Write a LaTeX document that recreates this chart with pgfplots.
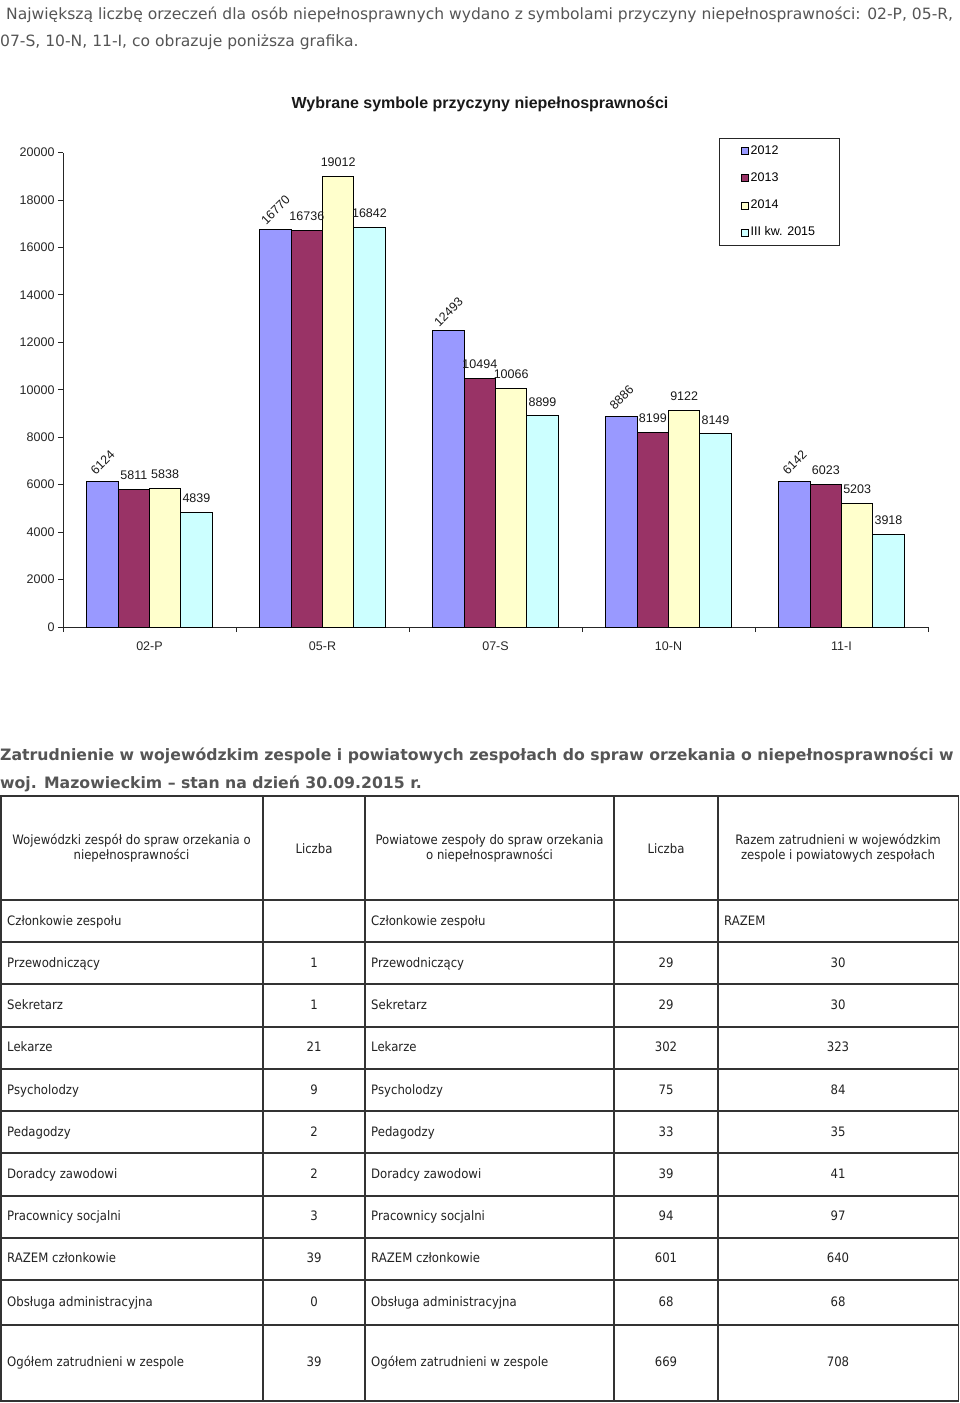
\documentclass[border=0pt]{standalone}
\usepackage{fontspec}
\usepackage{pgfplots}
\usepackage{pgfplotstable}
\pgfplotsset{compat=1.18}
\setmainfont{Liberation Sans}
\newfontfamily\pagefont{DejaVu Sans}
\newfontfamily\tabfontfam[FakeStretch=0.9]{DejaVu Sans}

\definecolor{c12}{HTML}{9999FF}
\definecolor{c13}{HTML}{993366}
\definecolor{c14}{HTML}{FFFFCC}
\definecolor{c15}{HTML}{CCFFFF}
\definecolor{pagegray}{HTML}{555555}
\definecolor{tabtext}{HTML}{222222}
\definecolor{tabline}{HTML}{333333}

\tikzset{lab/.style={font=\fontsize{12.5}{14}\selectfont, text=black!90}}

% symbole przyczyny: 0=02-P 1=05-R 2=07-S 3=10-N 4=11-I
\pgfplotstableread{
x y12 y13 y14 y15
0 6124 5811 5838 4839
1 16770 16736 19012 16842
2 12493 10494 10066 8899
3 8886 8199 9122 8149
4 6142 6023 5203 3918
}\symbole

\newcommand\tabfont{\tabfontfam\fontsize{13}{15}\selectfont}

\begin{document}
\begin{tikzpicture}
\begin{axis}[
  at={(63pt,-627pt)}, anchor=south west,
  width=865pt, height=474.4pt, scale only axis,
  xmin=-0.5, xmax=4.5, ymin=0, ymax=20000,
  axis x line=bottom, axis y line=left,
  axis line style={-, line width=0.9pt, black!85},
  ybar=0pt, bar width=31.3pt,
  xtick={-0.5,0.5,1.5,2.5,3.5,4.5},
  xticklabels={02-P,05-R,07-S,10-N,11-I,{}},
  xticklabel style={xshift=86.5pt, yshift=-6pt},
  ytick={0,2000,...,20000},
  scaled y ticks=false,
  tick align=outside, major tick length=5pt,
  tick style={black!85, line width=0.9pt},
  /pgf/number format/1000 sep={},
  /pgf/number format/assume math mode=true,
  ticklabel style={font=\fontsize{12.5}{14}\selectfont, text=black!85},
  nodes near coords,
  nodes near coords align={center},
  legend style={at={(0.758,1.031)}, anchor=north west, draw=black!85, line width=0.9pt,
    font=\fontsize{12.5}{14}\selectfont, inner xsep=22pt, inner ysep=5pt, row sep=11.7pt,
    nodes={inner sep=2pt, text height=9pt, text depth=2.5pt}},
  legend cell align=left,
  sq/.style={legend image code/.code={\draw[##1, line width=0.6pt] (0pt,-3.5pt) rectangle (7pt,3.5pt);}},
  bar/.style={draw=black, line width=0.9pt},
]
\addplot[bar, fill=c12, sq, nodes near coords style={lab, yshift=19pt, rotate=45}]
  table[x=x, y=y12] {\symbole};
\addplot[bar, fill=c13, sq, nodes near coords style={lab, yshift=14pt}]
  table[x=x, y=y13] {\symbole};
\addplot[bar, fill=c14, sq, nodes near coords style={lab, yshift=14pt}]
  table[x=x, y=y14] {\symbole};
\addplot[bar, fill=c15, sq, nodes near coords style={lab, yshift=14pt}]
  table[x=x, y=y15] {\symbole};
\legend{2012,2013,2014,III kw. 2015}
\end{axis}

\begin{scope}[x=1pt,y=-1pt]
% tekst nad wykresem
\node[anchor=base west, inner sep=0, text=pagegray, font=\pagefont\fontsize{15.55}{19}\selectfont] at (6,19)
  {Największą liczbę orzeczeń dla osób niepełnosprawnych wydano z symbolami przyczyny niepełnosprawności: 02-P, 05-R,};
\node[anchor=base west, inner sep=0, text=pagegray, font=\pagefont\fontsize{15.55}{19}\selectfont] at (0,46)
  {07-S, 10-N, 11-I, co obrazuje poniższa grafika.};

% tytul wykresu
\node[font=\bfseries\fontsize{16}{19}\selectfont, text=black!90] at (480,104)
  {Wybrane symbole przyczyny niepełnosprawności};

% naglowek tabeli
\node[anchor=base west, inner sep=0, text=pagegray, font=\pagefont\bfseries\fontsize{15.7}{19}\selectfont] at (0,760)
  {Zatrudnienie w wojewódzkim zespole i powiatowych zespołach do spraw orzekania o niepełnosprawności w};
\node[anchor=base west, inner sep=0, text=pagegray, font=\pagefont\bfseries\fontsize{15.7}{19}\selectfont] at (0,788)
  {woj. Mazowieckim – stan na dzień 30.09.2015 r.};

% siatka tabeli
\draw[tabline, line width=1.5pt] (0.75,796) rectangle (958.5,1401);
\foreach \cx in {263,365,614,718}
  \draw[tabline, line width=1.3pt] (\cx,796) -- (\cx,1401);
\foreach \ry in {900,942,984,1027,1069,1111,1153,1196,1238,1280,1325}
  \draw[tabline, line width=1.5pt] (0.75,\ry) -- (958.5,\ry);

% komorki naglowka
\begin{scope}[every node/.style={font=\tabfont, text=tabtext, align=center, inner sep=0}]
\node at (131.5,848.5) {Wojewódzki zespół do spraw orzekania o\\niepełnosprawności};
\node at (314,848.5) {Liczba};
\node at (489.5,848.5) {Powiatowe zespoły do spraw orzekania\\o niepełnosprawności};
\node at (666,848.5) {Liczba};
\node at (838,848.5) {Razem zatrudnieni w wojewódzkim\\zespole i powiatowych zespołach};
\end{scope}

% wiersze tabeli
\begin{scope}[every node/.style={font=\tabfont, text=tabtext, inner sep=0}]
\node[anchor=base west] at (7,925.5) {Członkowie zespołu};
\node[anchor=base west] at (371,925.5) {Członkowie zespołu};
\node[anchor=base west] at (724,925.5) {RAZEM};
\foreach \yy/\na/\a/\b/\c in {
  967.5/Przewodniczący/1/29/30,
  1009.5/Sekretarz/1/29/30,
  1051.5/Lekarze/21/302/323,
  1094.5/Psycholodzy/9/75/84,
  1136.5/Pedagodzy/2/33/35,
  1178.5/Doradcy zawodowi/2/39/41,
  1220.5/Pracownicy socjalni/3/94/97,
  1262.5/RAZEM członkowie/39/601/640,
  1306.5/Obsługa administracyjna/0/68/68,
  1366.5/Ogółem zatrudnieni w zespole/39/669/708}{
  \node[anchor=base west] at (7,\yy) {\na};
  \node[anchor=base] at (314,\yy) {\a};
  \node[anchor=base west] at (371,\yy) {\na};
  \node[anchor=base] at (666,\yy) {\b};
  \node[anchor=base] at (838,\yy) {\c};
}
\end{scope}

\pgfresetboundingbox
\path[use as bounding box] (0,0) rectangle (960,1403);
\end{scope}
\end{tikzpicture}
\end{document}
